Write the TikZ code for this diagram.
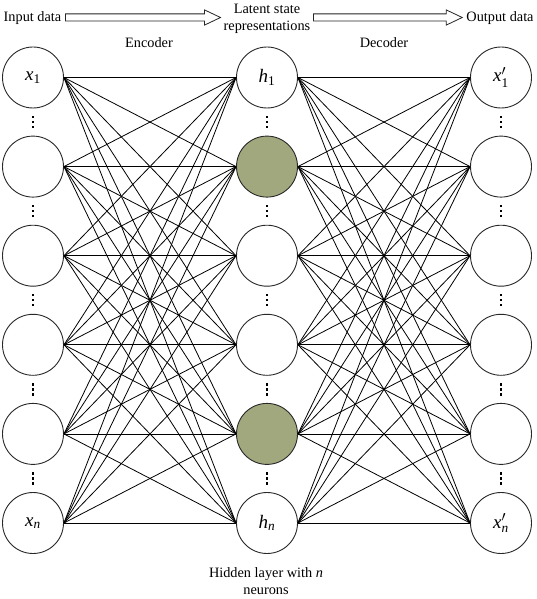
\documentclass[tikz,border=0pt]{standalone}
\usepackage{amsmath}
\usepackage{fontspec}
\setmainfont{Liberation Serif}
\usetikzlibrary{calc}
\definecolor{hidgreen}{RGB}{162,168,126}
\definecolor{circline}{RGB}{40,40,40}
\begin{document}
\begin{tikzpicture}[x=1pt,y=-1pt,
  neuron/.style={circle,draw=circline,line width=0.9pt,minimum size=61pt,inner sep=0pt,fill=white,
    font=\fontsize{19}{22}\selectfont},
  active/.style={neuron,fill=hidgreen},
  conn/.style={line width=0.8pt,black},
  lbl/.style={font=\fontsize{14.3}{17}\selectfont,inner sep=0pt,align=center},
  blockarrow/.style={draw=black!85,line width=0.8pt,fill=white},
  dotmark/.style={fill=black,draw=none}]
\useasboundingbox (0,0) rectangle (536,599);
% columns and rows
\def\xL{33}\def\xM{267}\def\xR{501}
\foreach \i/\y in {1/77.5,2/166.6,3/255.7,4/344.8,5/433.9,6/523}{
  \coordinate (L\i) at (\xL,\y);
  \coordinate (M\i) at (\xM,\y);
  \coordinate (R\i) at (\xR,\y);
}
% neurons
\node[neuron] (x1) at (L1) {$\textit{x}_{\textrm{1}}$};
\node[neuron] (x2) at (L2) {};
\node[neuron] (x3) at (L3) {};
\node[neuron] (x4) at (L4) {};
\node[neuron] (x5) at (L5) {};
\node[neuron] (x6) at (L6) {$\textit{x}_{\textit{n}}$};
\node[neuron] (h1) at (M1) {$\textit{h}_{\textrm{1}}$};
\node[active] (h2) at (M2) {};
\node[neuron] (h3) at (M3) {};
\node[neuron] (h4) at (M4) {};
\node[active] (h5) at (M5) {};
\node[neuron] (h6) at (M6) {$\textit{h}_{\textit{n}}$};
\node[neuron] (y1) at (R1) {$\textit{x}'_{\textrm{1}}$};
\node[neuron] (y2) at (R2) {};
\node[neuron] (y3) at (R3) {};
\node[neuron] (y4) at (R4) {};
\node[neuron] (y5) at (R5) {};
\node[neuron] (y6) at (R6) {$\textit{x}'_{\textit{n}}$};
% connections
\foreach \i in {1,...,6}{
  \foreach \j in {1,...,6}{
    \draw[conn] (x\i.east) -- (h\j.west);
    \draw[conn] (h\i.east) -- (y\j.west);
  }
}
% vertical dots between neurons
\foreach \c in {L,M,R}{
  \foreach \i [evaluate=\i as \k using int(\i+1)] in {1,...,5}{
    \coordinate (d) at ($(\c\i)!0.5!(\c\k)$);
    \fill[dotmark] ($(d)+(-1.2,-6.2)$) rectangle ($(d)+(1.2,-3.8)$);
    \fill[dotmark] ($(d)+(-1.2,-1.2)$) rectangle ($(d)+(1.2,1.2)$);
    \fill[dotmark] ($(d)+(-1.2,3.8)$) rectangle ($(d)+(1.2,6.2)$);
  }
}
% top labels
\node[lbl] (inp) at (32.5,18) {Input data};
\node[lbl] (lat) at (267,18.5) {Latent state\\representations};
\node[lbl] (out) at (500,18) {Output data};
\node[lbl] (enc) at (149,42.5) {Encoder};
\node[lbl] (dec) at (384,42.5) {Decoder};
\node[lbl] (hid) at (266,581.5) {Hidden layer with \textit{n}\\neurons};
% block arrows
\coordinate (a1s) at ($(inp.east)+(4,-0.5)$);
\coordinate (a1e) at ($(lat.west)+(-3,-1)$);
\coordinate (a2s) at ($(lat.east)+(3,-1)$);
\coordinate (a2e) at ($(out.west)+(-4,-0.5)$);
\draw[blockarrow] ($(a1s)+(0,-3.6)$) -- ($(a1e)+(-16,-3.6)$) -- ($(a1e)+(-16,-7.6)$) -- (a1e)
  -- ($(a1e)+(-16,7.6)$) -- ($(a1e)+(-16,3.6)$) -- ($(a1s)+(0,3.6)$) -- cycle;
\draw[blockarrow] ($(a2s)+(0,-3.6)$) -- ($(a2e)+(-16,-3.6)$) -- ($(a2e)+(-16,-7.6)$) -- (a2e)
  -- ($(a2e)+(-16,7.6)$) -- ($(a2e)+(-16,3.6)$) -- ($(a2s)+(0,3.6)$) -- cycle;
\end{tikzpicture}
\end{document}
